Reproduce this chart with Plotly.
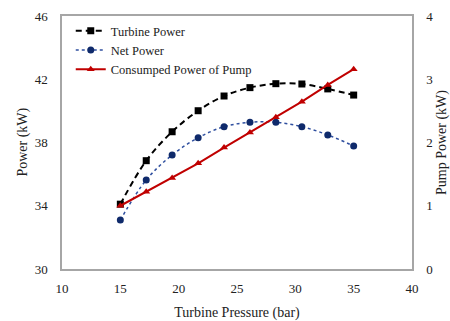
import plotly.graph_objects as go

pressure = [15, 17.22, 19.44, 21.67, 23.89, 26.11, 28.33, 30.56, 32.78, 35]
turbine_power = [34.1, 36.85, 38.68, 40.01, 40.94, 41.47, 41.72, 41.70, 41.39, 41.0]
net_power = [33.1, 35.63, 37.21, 38.3, 39.0, 39.28, 39.28, 39.0, 38.48, 37.78]
pump_power = [1.0, 1.22, 1.44, 1.67, 1.92, 2.16, 2.40, 2.645, 2.91, 3.16]

FONT = "Liberation Serif"
AXC = "#a6a6a6"

fig = go.Figure()
fig.add_trace(go.Scatter(
    x=pressure, y=turbine_power, name="Turbine Power", mode="lines+markers",
    line=dict(color="black", width=2, dash="6px,4px", shape="spline"),
    marker=dict(symbol="square", size=7, color="black")))
fig.add_trace(go.Scatter(
    x=pressure, y=net_power, name="Net Power", mode="lines+markers",
    line=dict(color="#2f4f9f", width=1.5, dash="dot", shape="spline"),
    marker=dict(symbol="circle", size=7, color="#0f2a6b")))
fig.add_trace(go.Scatter(
    x=pressure, y=pump_power, name="Consumped Power of Pump", mode="lines+markers",
    yaxis="y2",
    line=dict(color="#c00000", width=2),
    marker=dict(symbol="triangle-up", size=7, color="#c00000")))

fig.update_layout(
    width=450, height=321,
    margin=dict(l=62, r=38, t=16, b=52),
    paper_bgcolor="white", plot_bgcolor="white",
    font=dict(family=FONT, size=13, color="#222"),
    showlegend=True,
    legend=dict(x=0.025, y=1.0, xanchor="left", yanchor="top",
                bgcolor="rgba(0,0,0,0)", font=dict(family=FONT, size=12.5, color="#222"),
                itemwidth=30, tracegroupgap=0),
    xaxis=dict(range=[10, 40], dtick=5, showgrid=False, zeroline=False,
               showline=True, linecolor=AXC, linewidth=1.5, mirror=True, automargin=False,
               ticks="", tickfont=dict(family=FONT, size=13), ticklabelstandoff=7,
               title=dict(text="Turbine Pressure (bar)", font=dict(family=FONT, size=14))),
    yaxis=dict(range=[30, 46], tick0=30, dtick=4, showgrid=False, zeroline=False,
               showline=True, linecolor=AXC, linewidth=1.5, ticks="", automargin=False,
               tickfont=dict(family=FONT, size=13), ticklabelstandoff=10),
    yaxis2=dict(range=[0, 4], dtick=1, overlaying="y", side="right", showgrid=False,
                zeroline=False, showline=True, linecolor=AXC, linewidth=1.5, ticks="",
                automargin=False,
                tickfont=dict(family=FONT, size=13), ticklabelstandoff=10,
                title=dict(text="Pump Power (kW)", font=dict(family=FONT, size=14))),
    annotations=[dict(text="Power (kW)", xref="paper", yref="paper",
                      x=-0.114, y=0.5, xanchor="center", yanchor="middle",
                      textangle=-90, showarrow=False,
                      font=dict(family=FONT, size=14, color="#222"))],
)

fig.write_html("out.html")
